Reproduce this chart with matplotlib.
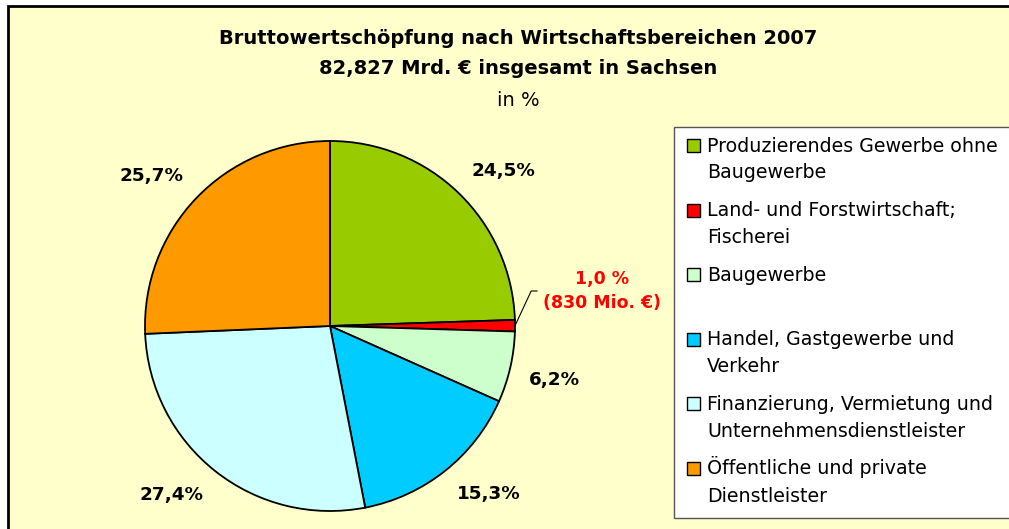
import numpy as np
import matplotlib
matplotlib.use("Agg")
import matplotlib.pyplot as plt
from matplotlib.patches import Rectangle

# Data (Sachsen 2007, share of gross value added in %)
sectors = [
    "Produzierendes Gewerbe ohne\nBaugewerbe",
    "Land- und Forstwirtschaft;\nFischerei",
    "Baugewerbe",
    "Handel, Gastgewerbe und\nVerkehr",
    "Finanzierung, Vermietung und\nUnternehmensdienstleister",
    "Öffentliche und private\nDienstleister",
]
shares = [24.5, 1.0, 6.2, 15.3, 27.4, 25.7]
colors = ["#99CC00", "#FF0000", "#CCFFCC", "#00CCFF", "#CCFFFF", "#FF9900"]
small_label = "1,0 %\n(830 Mio. €)"

W, H = 1009, 529
plt.rcParams["font.family"] = ["DejaVu Sans"]

fig = plt.figure(figsize=(W / 100, H / 100), dpi=100, facecolor="white")

def fx(px):
    return px / W

def fy(py):
    return 1 - py / H

# chart area background with left/top border (right and bottom run off the image)
fig.patches.append(Rectangle((fx(8), -0.2), 1.3, fy(6) + 0.2, transform=fig.transFigure,
                             facecolor="#FFFFCC", edgecolor="black", lw=2, zorder=-5))

fig.text(fx(518), fy(38), "Bruttowertschöpfung nach Wirtschaftsbereichen 2007",
         ha="center", va="center", fontsize=14, fontweight="bold")
fig.text(fx(518), fy(69), "82,827 Mrd. € insgesamt in Sachsen",
         ha="center", va="center", fontsize=14, fontweight="bold")
fig.text(fx(518), fy(100), "in %", ha="center", va="center", fontsize=14)

# pie
ax = fig.add_axes([fx(145), fy(511), fx(370), 370 / H], zorder=2)
ax.patch.set_alpha(0)
wedges, _ = ax.pie(shares, colors=colors, startangle=90, counterclock=False,
                   wedgeprops=dict(edgecolor="black", linewidth=1.3))
ax.set_xlim(-1, 1)
ax.set_ylim(-1, 1)
ax.set_axis_off()

for i, (w, v) in enumerate(zip(wedges, shares)):
    ang = np.deg2rad((w.theta1 + w.theta2) / 2)
    c, s = np.cos(ang), np.sin(ang)
    if i == 1:
        ax.annotate(small_label, xy=(c, s), xytext=(20, 25), textcoords="offset points",
                    ha="left", va="center", ma="center", color="#FF0000",
                    fontsize=12.5, fontweight="bold", linespacing=1.45,
                    arrowprops=dict(arrowstyle="-", color="black", lw=0.8,
                                    connectionstyle="angle,angleA=0,angleB=65,rad=0",
                                    relpos=(0, 0.5), shrinkA=2, shrinkB=0))
        continue
    ax.text(1.1 * c, 1.1 * s, f"{v:.1f}%".replace(".", ","),
            ha="left" if c > 0 else "right", va="bottom" if s > 0 else "top",
            fontsize=13.2, fontweight="bold")

# legend box (clipped at right edge as in the original)
fig.patches.append(Rectangle((fx(674), fy(518)), 0.5, (518 - 127) / H, transform=fig.transFigure,
                             facecolor="white", edgecolor="#555555", lw=1, zorder=1))
y_first = 151.5
step = 64.6
line_h = 27
for i, (lab, col) in enumerate(zip(sectors, colors)):
    yb = y_first + i * step
    fig.patches.append(Rectangle((fx(687), fy(yb + 0.5)), fx(13), 13 / H,
                                 transform=fig.transFigure, facecolor=col,
                                 edgecolor="black", lw=1, zorder=2))
    for k, line in enumerate(lab.split("\n")):
        fig.text(fx(707), fy(yb + k * line_h), line, ha="left", va="baseline",
                 fontsize=13.7, zorder=3)

fig.savefig("out.png", dpi=100, facecolor="white")
